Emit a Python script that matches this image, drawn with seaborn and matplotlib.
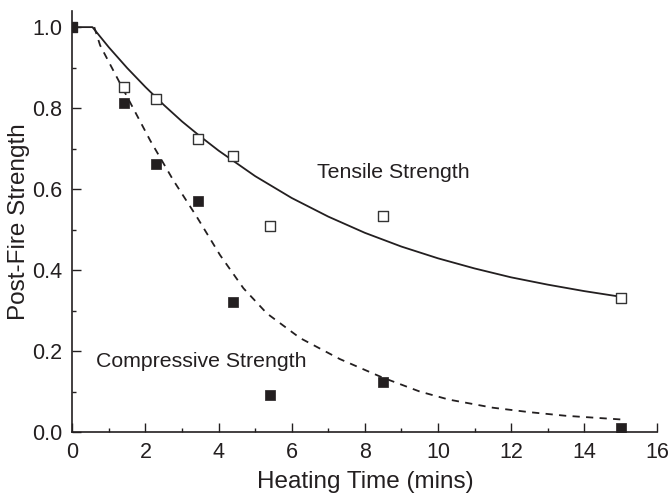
import matplotlib
matplotlib.use("Agg")
import matplotlib.pyplot as plt
from matplotlib.ticker import MultipleLocator
import seaborn as sns
import pandas as pd

# measured data
time_pts = [0, 1.4, 2.3, 3.45, 4.4, 5.4, 8.5, 15]
tensile_pts = [1.0, 0.853, 0.822, 0.723, 0.681, 0.510, 0.533, 0.330]
compressive_pts = [1.0, 0.813, 0.662, 0.571, 0.321, 0.091, 0.123, 0.010]

# fitted curves
tens_fit_x = [0, 0.55, 1, 1.5, 2, 2.5, 3, 3.5, 4, 5, 6, 7, 8, 9, 10, 11, 12, 13, 14, 15]
tens_fit_y = [1.0, 1.0, 0.950, 0.899, 0.852, 0.808, 0.767, 0.730, 0.695, 0.632, 0.578,
              0.532, 0.492, 0.458, 0.429, 0.404, 0.382, 0.364, 0.348, 0.334]
comp_fit_x = [0.6, 0.76, 1.3, 2.13, 2.76, 3.4, 4.04, 4.68, 5.32, 6.23, 7.32, 8.47,
              9.5, 10.3, 11.5, 12.5, 13.5, 15]
comp_fit_y = [1.0, 0.955, 0.862, 0.720, 0.622, 0.532, 0.437, 0.355, 0.293, 0.232,
              0.180, 0.135, 0.100, 0.080, 0.060, 0.049, 0.040, 0.031]

xlabel = "Heating Time (mins)"
ylabel = "Post-Fire Strength"
label_tensile = "Tensile Strength"
label_compressive = "Compressive Strength"

sns.set_theme(style="ticks")
plt.rcParams['font.family'] = ['Liberation Sans', 'DejaVu Sans']
ink = "#231f20"

fig = plt.figure(figsize=(6.71, 4.97), dpi=100)
ax = fig.add_axes([0.1078, 0.1308, 0.8718, 0.8472])

df_t = pd.DataFrame({"x": tens_fit_x, "y": tens_fit_y})
df_c = pd.DataFrame({"x": comp_fit_x, "y": comp_fit_y})
sns.lineplot(data=df_t, x="x", y="y", ax=ax, color=ink, lw=1.3, sort=False, estimator=None)
sns.lineplot(data=df_c, x="x", y="y", ax=ax, color=ink, lw=1.3, sort=False, estimator=None,
             linestyle=(0, (4, 3.5)))

pts = pd.DataFrame({"x": time_pts, "t": tensile_pts, "c": compressive_pts})
sns.scatterplot(data=pts, x="x", y="t", ax=ax, marker="s", s=62, facecolor="white",
                edgecolor="#333333", linewidth=1.0, zorder=3)
sns.scatterplot(data=pts, x="x", y="c", ax=ax, marker="s", s=62, color=ink,
                edgecolor=ink, linewidth=0.5, zorder=4)

ax.set_xlim(0, 16)
ax.set_ylim(0, 1.04)
ax.xaxis.set_major_locator(MultipleLocator(2))
ax.xaxis.set_minor_locator(MultipleLocator(1))
ax.yaxis.set_major_locator(MultipleLocator(0.2))
ax.yaxis.set_minor_locator(MultipleLocator(0.1))
ax.set_yticklabels([f"{v:.1f}" for v in ax.get_yticks()])
ax.tick_params(which="major", direction="in", length=6.5, width=1.0, colors=ink,
               labelsize=15.5, pad=7)
ax.tick_params(which="minor", direction="in", length=3.2, width=1.0, colors=ink)
for s in ["top", "right"]:
    ax.spines[s].set_visible(False)
for s in ["left", "bottom"]:
    ax.spines[s].set_linewidth(1.2)
    ax.spines[s].set_color(ink)

ax.set_xlabel(xlabel, fontsize=17.5, color=ink, labelpad=6)
ax.set_ylabel(ylabel, fontsize=17.5, color=ink, labelpad=2)

ax.text(6.69, 0.642, label_tensile, fontsize=15.3, color=ink, va="center", ha="left")
ax.text(0.65, 0.173, label_compressive, fontsize=15.3, color=ink, va="center", ha="left")

fig.savefig("out.png", dpi=100)
